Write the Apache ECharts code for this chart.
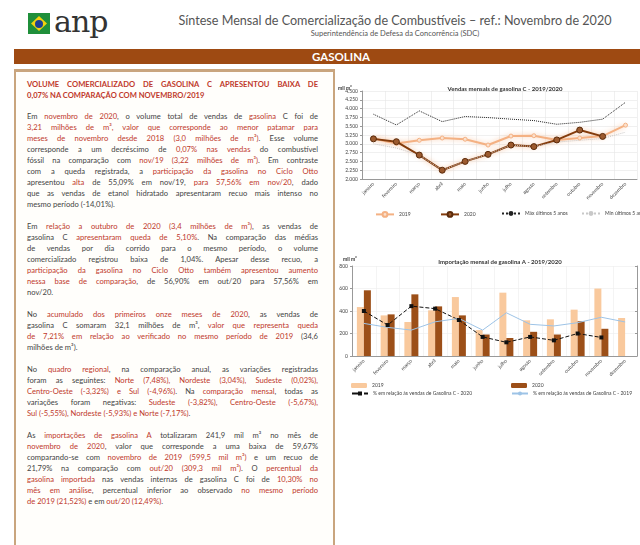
<!DOCTYPE html>
<html>
<head>
<meta charset="utf-8">
<script src="https://cdn.jsdelivr.net/npm/echarts@6/dist/echarts.min.js"></script>
<style>
    body { margin: 0; width: 640px; height: 545px; background: #fff; position: relative; overflow: hidden; font-family: Lato, 'Liberation Sans', sans-serif; }
    .flag { position: absolute; left: 28px; top: 13px; width: 22px; height: 21px; background: #1f8f3a; }
    .flag .rh { position: absolute; left: 3px; top: 3px; width: 16px; height: 15px; background: #f2d20f; clip-path: polygon(50% 0, 100% 50%, 50% 100%, 0 50%); }
    .flag .ci { position: absolute; left: 7px; top: 6.5px; width: 8px; height: 8px; border-radius: 50%; background: #1d3f94; }
    .logo { position: absolute; left: 54px; top: 4px; font-family: 'DejaVu Serif', serif; font-size: 30px; color: #333; letter-spacing: -1px; }
    .head1 { position: absolute; left: 150px; width: 490px; top: 13px; text-align: center; font-size: 12.6px; color: #555; }
    .head2 { position: absolute; left: 150px; width: 490px; top: 29px; text-align: center; font-size: 7.5px; color: #555; }
    .band { position: absolute; left: 14px; top: 49px; width: 626px; height: 15px; background: #9e4a12; color: #fff; font-weight: bold; font-size: 11.5px; line-height: 15px; text-align: center; text-indent: 28px; }
    .panel { position: absolute; left: 14px; top: 69px; width: 306px; height: 471px; border: 2px solid #c9a57e; border-top-width: 3px; background: #fffefb; padding: 7px 0 0 11px; box-sizing: content-box; }
    .txt { width: 291px; font-size: 7.6px; color: #444; }
    .p > div { white-space: nowrap; height: 11px; line-height: 11px; }
    .j { text-align: justify; text-align-last: justify; }
    .p { margin-bottom: 11px; }
    .r { color: #c0392b; }
    .t { color: #c0392b; font-weight: bold; }
    .t > div { height: 10.5px; line-height: 10.5px; }
    #c1 { position: absolute; left: 330px; top: 75px; width: 310px; height: 148px; }
    #c2 { position: absolute; left: 330px; top: 243px; width: 310px; height: 157px; }
</style>
</head>
<body>
<div class="flag"><div class="rh"></div><div class="ci"></div></div>
<div class="logo">anp</div>
<div class="head1">Síntese Mensal de Comercialização de Combustíveis – ref.: Novembro de 2020</div>
<div class="head2">Superintendência de Defesa da Concorrência (SDC)</div>
<div class="band">GASOLINA</div>

<div class="panel"><div class="txt">
    <div class="t p">
        <div class="j">VOLUME COMERCIALIZADO DE GASOLINA C APRESENTOU BAIXA DE</div>
        <div>0,07% NA COMPARAÇÃO COM NOVEMBRO/2019</div>
    </div>
    <div class="p">
        <div class="j">Em <span class="r">novembro de 2020</span>, o volume total de vendas de <span class="r">gasolina</span> C foi de</div>
        <div class="j"><span class="r">3,21 milhões de m³, valor que corresponde ao menor patamar para</span></div>
        <div class="j"><span class="r">meses de novembro desde 2018 (3,0 milhões de m³)</span>. Esse volume</div>
        <div class="j">corresponde a um decréscimo de <span class="r">0,07% nas vendas</span> do combustível</div>
        <div class="j">fóssil na comparação com <span class="r">nov/19 (3,22 milhões de m³)</span>. Em contraste</div>
        <div class="j">com a queda registrada, a <span class="r">participação da gasolina no Ciclo Otto</span></div>
        <div class="j">apresentou <span class="r">alta</span> de 55,09% em nov/19, <span class="r">para 57,56% em nov/20</span>, dado</div>
        <div class="j">que as vendas de etanol hidratado apresentaram recuo mais intenso no</div>
        <div>mesmo período (-14,01%).</div>
    </div>
    <div class="p">
        <div class="j">Em <span class="r">relação a outubro de 2020 (3,4 milhões de m³)</span>, as vendas de</div>
        <div class="j">gasolina C <span class="r">apresentaram queda de 5,10%</span>. Na comparação das médias</div>
        <div class="j">de vendas por dia corrido para o mesmo período, o volume</div>
        <div class="j">comercializado registrou baixa de 1,04%. Apesar desse recuo, a</div>
        <div class="j"><span class="r">participação da gasolina no Ciclo Otto também apresentou aumento</span></div>
        <div class="j"><span class="r">nessa base de comparação</span>, de 56,90% em out/20 para 57,56% em</div>
        <div>nov/20.</div>
    </div>
    <div class="p">
        <div class="j">No <span class="r">acumulado dos primeiros onze meses de 2020</span>, as vendas de</div>
        <div class="j">gasolina C somaram 32,1 milhões de m³, <span class="r">valor que representa queda</span></div>
        <div class="j"><span class="r">de 7,21% em relação ao verificado no mesmo período de 2019</span> (34,6</div>
        <div>milhões de m³).</div>
    </div>
    <div class="p">
        <div class="j">No <span class="r">quadro regional</span>, na comparação anual, as variações registradas</div>
        <div class="j">foram as seguintes: <span class="r">Norte (7,48%), Nordeste (3,04%), Sudeste (0,02%),</span></div>
        <div class="j"><span class="r">Centro-Oeste (-3,32%) e Sul (-4,96%)</span>. Na <span class="r">comparação mensal</span>, todas as</div>
        <div class="j">variações foram negativas: <span class="r">Sudeste (-3,82%), Centro-Oeste (-5,67%),</span></div>
        <div><span class="r">Sul (-5,55%), Nordeste (-5,93%) e Norte (-7,17%)</span>.</div>
    </div>
    <div class="p">
        <div class="j">As <span class="r">importações de gasolina A</span> totalizaram 241,9 mil m³ no mês de</div>
        <div class="j"><span class="r">novembro de 2020</span>, valor que corresponde a uma baixa de 59,67%</div>
        <div class="j">comparando-se com <span class="r">novembro de 2019 (599,5 mil m³)</span> e um recuo de</div>
        <div class="j">21,79% na comparação com <span class="r">out/20 (309,3 mil m³)</span>. O <span class="r">percentual da</span></div>
        <div class="j"><span class="r">gasolina importada</span> nas vendas internas de gasolina C foi de <span class="r">10,30% no</span></div>
        <div class="j"><span class="r">mês em análise</span>, percentual inferior ao observado <span class="r">no mesmo período</span></div>
        <div><span class="r">de 2019 (21,52%)</span> e em <span class="r">out/20 (12,49%)</span>.</div>
    </div>
</div></div>

<div id="c1"></div>
<div id="c2"></div>

<script>
// meses do ano
const months = ['janeiro', 'fevereiro', 'março', 'abril', 'maio', 'junho', 'julho', 'agosto', 'setembro', 'outubro', 'novembro', 'dezembro'];

// vendas mensais de gasolina C (mil m³)
const vendas2019 = [3150, 3010, 3100, 3165, 3130, 2965, 3220, 3230, 3110, 3165, 3220, 3530];
const vendas2020 = [3140, 3060, 2680, 2250, 2500, 2700, 2965, 2920, 3110, 3390, 3210, null];
const max5anos = [3840, 3535, 3935, 3630, 3775, 3745, 3700, 3660, 3555, 3610, 3700, 4180];
const min5anos = [3000, 2880, 2680, 2250, 2500, 2700, 2965, 2920, 3050, 3100, 3150, 3330];

// importação de gasolina A (mil m³) e % sobre vendas de gasolina C
const imp2019 = [435, 361, 302, 406, 524, 230, 563, 317, 326, 412, 599.5, 338];
const imp2020 = [584, 370, 548, 441, 361, 191, 160, 215, 191, 309.3, 241.9, null];
const pct2020 = [25.0, 17.2, 27.7, 26.3, 20.0, 10.6, 7.6, 10.6, 8.7, 12.49, 10.30, null];
const pct2019 = [18.1, 15.9, 14.4, 19.0, 20.9, 14.4, 24.0, 17.6, 16.7, 18.5, 21.52, 18.9];

const fontFamily = 'Lato, "Liberation Sans", sans-serif';
const small = { fontSize: 5, color: '#444', fontFamily };

function fmtMil(v) {
    return v >= 1000 ? Math.floor(v / 1000) + '.' + String(v % 1000).padStart(3, '0') : String(v);
}

function legendAt(name, left, top) {
    return { data: [name], left, top, itemWidth: 18, itemHeight: 6, textStyle: small };
}

// gráfico 1 - vendas mensais
const chart1 = echarts.init(document.getElementById('c1'));
chart1.setOption({
    animation: false,
    title: [
        { text: 'Vendas mensais de gasolina C - 2019/2020', left: 170, top: 6, textAlign: 'center', textStyle: { fontSize: 6, fontWeight: 'bold', color: '#333', fontFamily } },
        { text: 'mil m³', left: 3, top: 6, textStyle: { fontSize: 5, fontWeight: 'bold', color: '#333', fontFamily } }
    ],
    grid: { left: 32, right: 3, top: 16, bottom: 44 },
    legend: [
        legendAt('2019', 40, 131),
        legendAt('2020', 105, 131),
        legendAt('Máx últimos 5 anos', 166, 131),
        legendAt('Mín últimos 5 anos', 246, 131)
    ],
    xAxis: {
        type: 'category', data: months, boundaryGap: true,
        axisLine: { lineStyle: { color: '#999' } },
        axisTick: { show: false },
        axisLabel: { ...small, rotate: 45, interval: 0, margin: 4 },
        splitLine: { show: true, lineStyle: { color: '#e6e6e6', width: 0.6 } }
    },
    yAxis: {
        type: 'value', min: 2000, max: 4500, interval: 250,
        axisLine: { show: true, lineStyle: { color: '#999' } },
        axisTick: { show: true, length: 2 },
        axisLabel: { ...small, margin: 4, formatter: fmtMil },
        splitLine: { lineStyle: { color: '#e6e6e6', width: 0.6 } }
    },
    series: [
        {
            name: '2019', type: 'line', data: vendas2019, symbol: 'circle', symbolSize: 4,
            lineStyle: { color: '#f4b183', width: 2, shadowBlur: 5, shadowColor: 'rgba(244,177,131,0.7)' },
            itemStyle: { color: '#fbe0cc', borderColor: '#f4b183', borderWidth: 1 }
        },
        {
            name: '2020', type: 'line', data: vendas2020, symbol: 'circle', symbolSize: 6,
            lineStyle: { color: '#843c0c', width: 2, shadowBlur: 5, shadowColor: 'rgba(244,177,131,0.8)' },
            itemStyle: { color: '#9c5a2e', borderColor: '#5a2a0a', borderWidth: 1 }
        },
        {
            name: 'Máx últimos 5 anos', type: 'line', data: max5anos, symbol: 'none',
            lineStyle: { color: '#222', width: 1, type: 'dotted' },
            itemStyle: { color: '#222' }
        },
        {
            name: 'Mín últimos 5 anos', type: 'line', data: min5anos, symbol: 'none',
            lineStyle: { color: '#c8c8c8', width: 1, type: 'dotted' },
            itemStyle: { color: '#c8c8c8' }
        }
    ]
});

// gráfico 2 - importação mensal
const chart2 = echarts.init(document.getElementById('c2'));
const pctName2020 = '% em relação às vendas de Gasolina C - 2020';
const pctName2019 = '% em relação às vendas de Gasolina C - 2019';
chart2.setOption({
    animation: false,
    title: [
        { text: 'Importação mensal de gasolina A - 2019/2020', left: 165, top: 11, textAlign: 'center', textStyle: { fontSize: 6, fontWeight: 'bold', color: '#333', fontFamily } },
        { text: 'mil m³', left: 8, top: 9, textStyle: { fontSize: 5, fontWeight: 'bold', color: '#333', fontFamily } }
    ],
    grid: { left: 22, right: 3, top: 23, bottom: 44 },
    legend: [
        { data: ['2019'], left: 16, top: 135, itemWidth: 16, itemHeight: 5, textStyle: small },
        { data: ['2020'], left: 176, top: 135, itemWidth: 16, itemHeight: 5, textStyle: small },
        { data: [pctName2020], left: 16, top: 143, itemWidth: 16, itemHeight: 5, textStyle: small },
        { data: [pctName2019], left: 176, top: 143, itemWidth: 16, itemHeight: 5, textStyle: small }
    ],
    xAxis: {
        type: 'category', data: months,
        axisLine: { lineStyle: { color: '#999' } },
        axisTick: { show: false },
        axisLabel: { ...small, rotate: 45, interval: 0, margin: 4 },
        splitLine: { show: true, lineStyle: { color: '#ececec', width: 0.6 } }
    },
    yAxis: [
        {
            type: 'value', min: 0, max: 800, interval: 200,
            axisLine: { show: true, lineStyle: { color: '#999' } },
            axisTick: { show: true, length: 2 },
            axisLabel: { ...small, margin: 4 },
            splitLine: { lineStyle: { color: '#ececec', width: 0.6 } }
        },
        {
            type: 'value', min: 0, max: 50, interval: 12.5,
            axisLine: { show: true, lineStyle: { color: '#999' } },
            axisTick: { show: true, length: 2, inside: true },
            axisLabel: { show: false },
            splitLine: { show: false }
        }
    ],
    series: [
        { name: '2019', type: 'bar', data: imp2019, barWidth: 7, barGap: '0%', itemStyle: { color: '#f9c99d' } },
        { name: '2020', type: 'bar', data: imp2020, barWidth: 7, itemStyle: { color: '#9c4f18' } },
        {
            name: pctName2020, type: 'line', yAxisIndex: 1, data: pct2020, symbol: 'rect', symbolSize: 4,
            lineStyle: { color: '#111', width: 1, type: 'dashed' }, itemStyle: { color: '#111' }
        },
        {
            name: pctName2019, type: 'line', yAxisIndex: 1, data: pct2019, symbol: 'none',
            lineStyle: { color: '#9dc3e6', width: 1 }, itemStyle: { color: '#9dc3e6' }
        }
    ]
});
</script>
</body>
</html>
